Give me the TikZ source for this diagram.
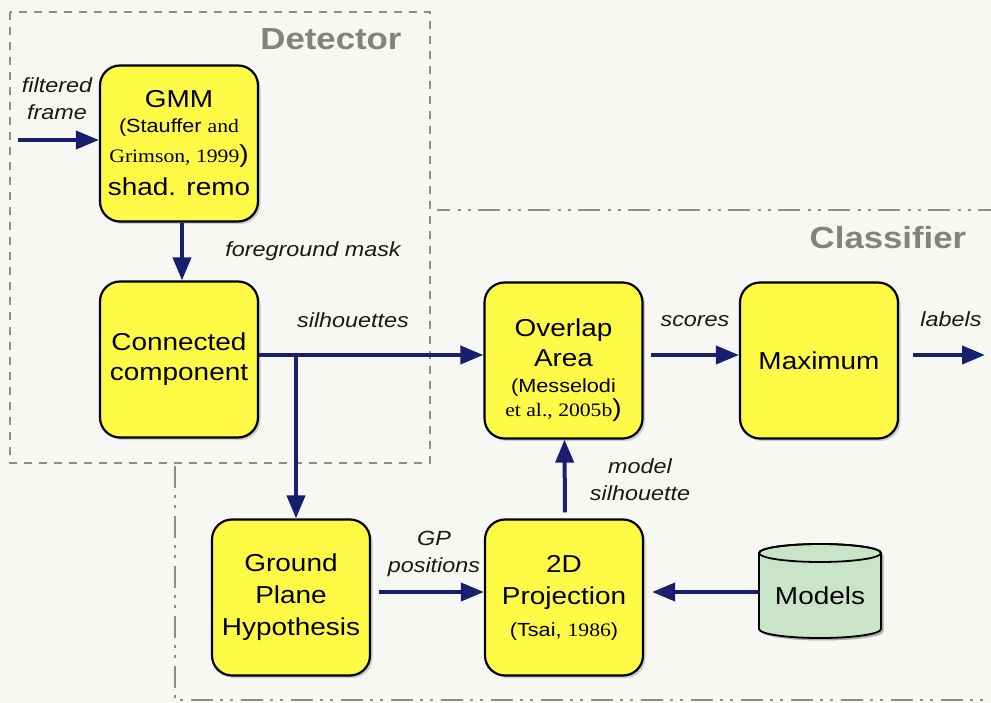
\documentclass[tikz,border=0pt]{standalone}
\usepackage{fontspec}
\setmainfont{Liberation Sans}[FakeStretch=1.14]
\newfontfamily\refserif{Liberation Serif}[FakeStretch=1.14]
\usetikzlibrary{arrows.meta,shadows}

\definecolor{paper}{RGB}{247,247,244}
\definecolor{boxyellow}{RGB}{255,250,70}
\definecolor{flowblue}{RGB}{22,32,110}
\definecolor{framegray}{RGB}{140,140,140}
\definecolor{titlegray}{RGB}{128,132,128}
\definecolor{modelgreen}{RGB}{202,228,200}

\tikzset{
  blk/.style={draw=black, line width=2.2pt, fill=boxyellow, rounded corners=20pt,
    minimum width=158pt, minimum height=156pt, align=center, inner sep=2pt,
    font=\fontsize{24.5}{30}\selectfont, text=black,
    drop shadow={shadow xshift=2.5pt, shadow yshift=-2.5pt, opacity=.35}},
  flow/.style={draw=flowblue, line width=4pt, -{Triangle[length=23pt,width=18pt]}},
  lbl/.style={font=\fontsize{20.5}{27}\selectfont\itshape, text=black!90, align=center, inner sep=0pt},
  title/.style={font=\fontsize{30.5}{34}\selectfont\bfseries, text=titlegray, inner sep=0pt},
  detbox/.style={draw=framegray, line width=1.5pt, dash pattern=on 8pt off 7pt},
  clsbox/.style={draw=framegray, line width=1.5pt, dash pattern=on 22pt off 7pt on 3pt off 7pt on 3pt off 8pt},
}
\newcommand{\citesmall}{\fontsize{19}{22}\selectfont}

\begin{document}
\begin{tikzpicture}[x=1pt, y=-1pt]
  % page
  \fill[paper] (0,0) rectangle (991,703);
  \useasboundingbox (0,0) rectangle (991,703);

  % stage frames
  \draw[detbox] (10,12) rectangle (430,463);
  \draw[clsbox] (1000,210) -- (437,210);
  \draw[clsbox] (175,466) -- (175,700) -- (1000,700);
  \node[title] (dettitle) at (331,39) {Detector};
  \node[title] (clstitle) at (888,238) {Classifier};

  % processing blocks
  \node[blk] (gmm) at (179,143.5) {GMM\\[-5pt]
    {\citesmall (Stauffer {\refserif and}}\\
    {\refserif\citesmall Grimson, 1999}{)}\\[3pt]
    shad. remo};
  \node[blk] (cc) at (179,359.5) {Connected\\component};
  \node[blk] (ovl) at (563.5,360.5) {\rule{0pt}{38pt}Overlap\\Area\\[-4pt]
    {\citesmall (Messelodi}\\[-6pt]
    {\refserif\citesmall et al., 2005b}{)}};
  \node[blk] (max) at (819,360.5) {Maximum};
  \node[blk] (gp) at (291,597.5) {Ground\\[2pt]Plane\\[2pt]Hypothesis};
  \node[blk] (proj) at (564,597.5) {2D\\[2pt]Projection\\[2pt]
    {\citesmall (Tsai, {\refserif 1986})}};

  % model database
  \fill[black, opacity=.3] (761.5,555.5) -- (761.5,631.5) arc[start angle=180, end angle=0, x radius=61, y radius=9]
    -- (883.5,555.5) arc[start angle=0, end angle=-180, x radius=61, y radius=9] -- cycle;
  \filldraw[fill=modelgreen, draw=black, line width=1.8pt]
    (759,553) -- (759,629) arc[start angle=180, end angle=0, x radius=61, y radius=9]
    -- (881,553) arc[start angle=0, end angle=-180, x radius=61, y radius=9] -- cycle;
  \draw[black, line width=1.8pt] (820,553) ellipse[x radius=61, y radius=9];
  \node[minimum width=122pt, minimum height=92pt, inner sep=0pt,
        font=\fontsize{24.5}{30}\selectfont] (models) at (820,596) {Models};

  % connectors
  \coordinate (fin) at (18,140);
  \coordinate (split) at (296,355);
  \coordinate (lout) at (985,355);
  \coordinate (gpy) at (0,592);

  \draw[flow] (fin) -- (fin -| gmm.west);
  \draw[flow] ([xshift=3pt]gmm.south) -- ([xshift=3pt]cc.north);
  \draw[flow] (split -| cc.east) -- (split -| ovl.west);
  \draw[flow] (split) -- (split |- gp.north);
  \draw[flow, shorten <=7pt] (split -| ovl.east) -- (split -| max.west);
  \draw[flow, shorten <=14pt] (split -| max.east) -- (lout);
  \draw[flow, shorten <=8pt] (gpy -| gp.east) -- (gpy -| proj.west);
  \draw[flow, shorten >=8pt] (gpy -| models.west) -- (gpy -| proj.east);
  \draw[flow, shorten <=6pt] ([xshift=1pt]proj.north) -- ([xshift=1pt]ovl.south);

  % connector labels
  \node[lbl] (lfin) at (57,99) {filtered\\frame};
  \node[lbl, anchor=base] (lmask) at (313,257) {foreground mask};
  \node[lbl, anchor=base] (lsil) at (353,328) {silhouettes};
  \node[lbl, anchor=base] (lscore) at (695,327) {scores};
  \node[lbl, anchor=base] (llab) at (951,327) {labels};
  \node[lbl] (lmodel) at (640,480) {model\\silhouette};
  \node[lbl] (lgp) at (434,554) {GP\\positions};
\end{tikzpicture}
\end{document}
